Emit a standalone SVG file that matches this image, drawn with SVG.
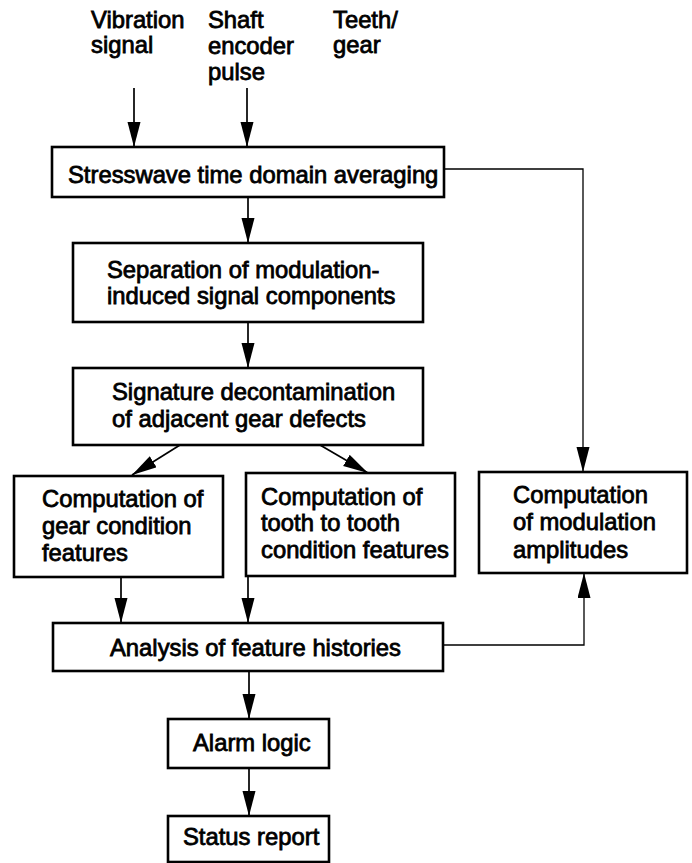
<svg xmlns="http://www.w3.org/2000/svg" width="692" height="863" viewBox="0 0 692 863">
<style>
  text { font-family: "Liberation Sans", Arial, Helvetica, sans-serif; font-size: 23.8px; fill: #000; stroke: #000; stroke-width: 0.8px; }
  .box { fill: #fff; stroke: #000; stroke-width: 2.6; }
  .conn { fill: none; stroke: #000; stroke-width: 1.7; }
  .thin { fill: none; stroke: #000; stroke-width: 1.3; }
</style>
<defs>
  <marker id="arr" markerUnits="userSpaceOnUse" markerWidth="28" markerHeight="16" refX="25" refY="6.5" orient="auto">
    <path d="M0,0 L25,6.5 L0,13 Z" fill="#000"/>
  </marker>
</defs>
<rect width="692" height="863" fill="#fff"/>

<g id="inputs">
  <text x="91" y="28">Vibration</text>
  <text x="91" y="53">signal</text>
  <text x="208" y="28">Shaft</text>
  <text x="208" y="54">encoder</text>
  <text x="208" y="80">pulse</text>
  <text x="333" y="28">Teeth/</text>
  <text x="333" y="53">gear</text>
</g>

<g id="connectors">
  <line class="conn" x1="134" y1="88" x2="134" y2="147" marker-end="url(#arr)"/>
  <line class="conn" x1="247" y1="88" x2="247" y2="147" marker-end="url(#arr)"/>
  <line class="conn" x1="248" y1="197" x2="248" y2="243" marker-end="url(#arr)"/>
  <line class="conn" x1="248" y1="322" x2="248" y2="368" marker-end="url(#arr)"/>
  <line class="conn" x1="180" y1="445" x2="132" y2="475" marker-end="url(#arr)"/>
  <line class="conn" x1="320" y1="445" x2="368" y2="473" marker-end="url(#arr)"/>
  <line class="conn" x1="121" y1="577" x2="121" y2="623" marker-end="url(#arr)"/>
  <line class="conn" x1="248" y1="576" x2="248" y2="623" marker-end="url(#arr)"/>
  <line class="conn" x1="249" y1="671" x2="249" y2="719" marker-end="url(#arr)"/>
  <line class="conn" x1="249" y1="768" x2="249" y2="816" marker-end="url(#arr)"/>
  <polyline class="thin" points="444,169 583,169 583,472" marker-end="url(#arr)"/>
  <polyline class="thin" points="443,645 584,645 584,573" marker-end="url(#arr)"/>
</g>

<g id="averaging">
  <rect class="box" x="52" y="147" width="392" height="50"/>
  <text x="68" y="183">Stresswave time domain averaging</text>
</g>

<g id="separation">
  <rect class="box" x="73" y="243" width="350" height="79"/>
  <text x="107" y="278">Separation of modulation-</text>
  <text x="107" y="304">induced signal components</text>
</g>

<g id="decontamination">
  <rect class="box" x="73" y="368" width="350" height="77"/>
  <text x="112" y="400">Signature decontamination</text>
  <text x="112" y="427">of adjacent gear defects</text>
</g>

<g id="gear-features">
  <rect class="box" x="14" y="476" width="209" height="101"/>
  <text x="42" y="507">Computation of</text>
  <text x="42" y="534">gear condition</text>
  <text x="42" y="561">features</text>
</g>

<g id="tooth-features">
  <rect class="box" x="246" y="473" width="209" height="103"/>
  <text x="261" y="505">Computation of</text>
  <text x="261" y="531">tooth to tooth</text>
  <text x="261" y="558">condition features</text>
</g>

<g id="modulation-amplitudes">
  <rect class="box" x="479" y="472" width="208" height="101"/>
  <text x="513" y="503">Computation</text>
  <text x="513" y="530">of modulation</text>
  <text x="513" y="558">amplitudes</text>
</g>

<g id="analysis">
  <rect class="box" x="53" y="623" width="390" height="48"/>
  <text x="110" y="656">Analysis of feature histories</text>
</g>

<g id="alarm">
  <rect class="box" x="168" y="719" width="161" height="49"/>
  <text x="193" y="751">Alarm logic</text>
</g>

<g id="status">
  <rect class="box" x="168" y="816" width="161" height="46"/>
  <text x="183" y="845">Status report</text>
</g>
</svg>
